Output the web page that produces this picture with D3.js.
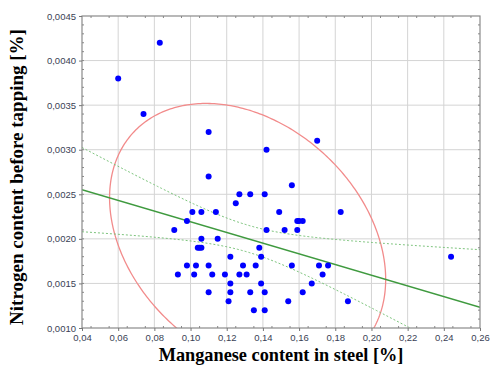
<!DOCTYPE html>
<html>
<head>
<meta charset="utf-8">
<script src="https://cdn.jsdelivr.net/npm/d3@7"></script>
<style>
  body { margin: 0; background: #fff; }
  svg { display: block; }
</style>
</head>
<body>
<div id="chart"></div>
<script>
// Mn content in steel [%]
const manganese = [
  0.060, 0.074, 0.083, 0.110, 0.110, 0.142, 0.170, 0.091, 0.098, 0.101,
  0.106, 0.114, 0.106, 0.115, 0.104, 0.105, 0.106, 0.122, 0.098, 0.103,
  0.110, 0.129, 0.093, 0.102, 0.112, 0.119, 0.127, 0.131, 0.122, 0.110,
  0.122, 0.121, 0.127, 0.133, 0.141, 0.125, 0.156, 0.149, 0.183, 0.159,
  0.160, 0.162, 0.142, 0.152, 0.159, 0.138, 0.139, 0.136, 0.156, 0.171,
  0.176, 0.173, 0.139, 0.167, 0.133, 0.141, 0.162, 0.154, 0.187, 0.135,
  0.141, 0.244
];
// N content before tapping [%]
const nitrogen = [
  0.0038, 0.0034, 0.0042, 0.0032, 0.0027, 0.0030, 0.0031, 0.0021, 0.0022, 0.0023,
  0.0023, 0.0023, 0.0020, 0.0020, 0.0019, 0.0019, 0.0019, 0.0018, 0.0017, 0.0017,
  0.0017, 0.0017, 0.0016, 0.0016, 0.0016, 0.0016, 0.0016, 0.0016, 0.0015, 0.0014,
  0.0014, 0.0013, 0.0025, 0.0025, 0.0025, 0.0024, 0.0026, 0.0023, 0.0023, 0.0022,
  0.0022, 0.0022, 0.0021, 0.0021, 0.0021, 0.0019, 0.0018, 0.0017, 0.0017, 0.0017,
  0.0017, 0.0016, 0.0015, 0.0015, 0.0014, 0.0014, 0.0014, 0.0013, 0.0013, 0.0012,
  0.0012, 0.0018
];
const xTicks = [0.04, 0.06, 0.08, 0.10, 0.12, 0.14, 0.16, 0.18, 0.20, 0.22, 0.24, 0.26];
const yTicks = [0.0010, 0.0015, 0.0020, 0.0025, 0.0030, 0.0035, 0.0040, 0.0045];
const xDomain = [0.04, 0.26];
const yDomain = [0.0010, 0.0045];

const width = 490, height = 368;
const margin = { top: 16, right: 10, bottom: 40, left: 82 };

const svg = d3.select("#chart").append("svg")
  .attr("width", width)
  .attr("height", height);

const x = d3.scaleLinear().domain(xDomain).range([margin.left, width - margin.right]);
const y = d3.scaleLinear().domain(yDomain).range([height - margin.bottom, margin.top]);

const pts = manganese.map((m, i) => ({ m, n: nitrogen[i] }));
const comma = d => d3.format(".2f")(d).replace(".", ",");
const comma4 = d => d3.format(".4f")(d).replace(".", ",");

svg.append("defs").append("clipPath").attr("id", "clip")
  .append("rect")
  .attr("x", margin.left).attr("y", margin.top)
  .attr("width", width - margin.left - margin.right)
  .attr("height", height - margin.top - margin.bottom);

// grid
svg.append("g").selectAll("line").data(xTicks.slice(1, -1)).join("line")
  .attr("x1", d => x(d)).attr("x2", d => x(d))
  .attr("y1", y.range()[1]).attr("y2", y.range()[0])
  .attr("stroke", "#d4d4d4").attr("stroke-width", 1);
svg.append("g").selectAll("line").data(yTicks.slice(1, -1)).join("line")
  .attr("y1", d => y(d)).attr("y2", d => y(d))
  .attr("x1", x.range()[0]).attr("x2", x.range()[1])
  .attr("stroke", "#d4d4d4").attr("stroke-width", 1);

// statistics: least squares fit, 95% confidence band, 95% ellipse
const n = pts.length;
const mx = d3.mean(pts, d => d.m), my = d3.mean(pts, d => d.n);
const sxx = d3.sum(pts, d => (d.m - mx) ** 2);
const syy = d3.sum(pts, d => (d.n - my) ** 2);
const sxy = d3.sum(pts, d => (d.m - mx) * (d.n - my));
const slope = sxy / sxx, icpt = my - slope * mx;
const resid = d3.sum(pts, d => (d.n - (icpt + slope * d.m)) ** 2);
const se = Math.sqrt(resid / (n - 2));
const tval = 2.0;

const xs = d3.range(0, 101).map(i => xDomain[0] + (xDomain[1] - xDomain[0]) * i / 100);
const band = sign => xs.map(v => [v, icpt + slope * v + sign * tval * se * Math.sqrt(1 / n + (v - mx) ** 2 / sxx)]);
const line = d3.line().x(d => x(d[0])).y(d => y(d[1]));

const plot = svg.append("g").attr("clip-path", "url(#clip)");

// ellipse
const cxx = sxx / (n - 1), cyy = syy / (n - 1), cxy = sxy / (n - 1);
const tr = cxx + cyy, det = cxx * cyy - cxy * cxy;
const l1 = tr / 2 + Math.sqrt(tr * tr / 4 - det), l2 = tr / 2 - Math.sqrt(tr * tr / 4 - det);
const ang = Math.atan2(l1 - cxx, cxy);
const k = Math.sqrt(5.991);
const ell = d3.range(0, 361).map(a => {
  const t = a * Math.PI / 180;
  const u = k * Math.sqrt(l1) * Math.cos(t), w = k * Math.sqrt(l2) * Math.sin(t);
  return [mx + u * Math.cos(ang) - w * Math.sin(ang), my + u * Math.sin(ang) + w * Math.cos(ang)];
});
plot.append("path").datum(ell)
  .attr("d", line)
  .attr("fill", "none")
  .attr("stroke", "#f28b8b").attr("stroke-width", 1.3);

[1, -1].forEach(s => {
  plot.append("path").datum(band(s))
    .attr("d", line)
    .attr("fill", "none")
    .attr("stroke", "#7dc47d").attr("stroke-width", 1)
    .attr("stroke-dasharray", "2,2");
});
plot.append("path").datum([[xDomain[0], icpt + slope * xDomain[0]], [xDomain[1], icpt + slope * xDomain[1]]])
  .attr("d", line)
  .attr("fill", "none")
  .attr("stroke", "#3f9a3f").attr("stroke-width", 1.5);

// points
svg.append("g").selectAll("circle").data(pts).join("circle")
  .attr("cx", d => x(d.m)).attr("cy", d => y(d.n))
  .attr("r", 3)
  .attr("fill", "#0000ff");

// frame
svg.append("rect")
  .attr("x", margin.left).attr("y", margin.top)
  .attr("width", width - margin.left - margin.right)
  .attr("height", height - margin.top - margin.bottom)
  .attr("fill", "none").attr("stroke", "#8a8a8a").attr("stroke-width", 1.2);

// axes
const xAxis = svg.append("g")
  .attr("transform", `translate(0,${height - margin.bottom})`)
  .call(d3.axisBottom(x).tickValues(xTicks).tickFormat(comma).tickSize(3).tickPadding(3));
const yAxis = svg.append("g")
  .attr("transform", `translate(${margin.left},0)`)
  .call(d3.axisLeft(y).tickValues(yTicks).tickFormat(comma4).tickSize(3).tickPadding(3));
[xAxis, yAxis].forEach(a => {
  a.select(".domain").remove();
  a.selectAll("line").attr("stroke", "#777");
  a.selectAll("text").attr("fill", "#3a3f55")
    .style("font-family", "Arial, 'Liberation Sans', sans-serif").style("font-size", "9.5px");
});

// minor ticks (inside)
const xMinor = d3.range(0, 22).map(i => 0.04 + i * 0.01 + 0.005);
const yMinor = d3.range(1, 35).map(i => 0.0010 + i * 0.0001);
const ticks = svg.append("g").attr("stroke", "#888").attr("stroke-width", 1);
ticks.selectAll(".xb").data(xMinor).join("line")
  .attr("x1", d => x(d)).attr("x2", d => x(d))
  .attr("y1", y.range()[0]).attr("y2", y.range()[0] - 2);
ticks.selectAll(".xt").data(xMinor).join("line")
  .attr("x1", d => x(d)).attr("x2", d => x(d))
  .attr("y1", y.range()[1]).attr("y2", y.range()[1] + 2);
ticks.selectAll(".yl").data(yMinor).join("line")
  .attr("y1", d => y(d)).attr("y2", d => y(d))
  .attr("x1", x.range()[0]).attr("x2", x.range()[0] + 2);
ticks.selectAll(".yr").data(yMinor).join("line")
  .attr("y1", d => y(d)).attr("y2", d => y(d))
  .attr("x1", x.range()[1]).attr("x2", x.range()[1] - 2);

// titles
svg.append("text")
  .attr("x", 281).attr("y", 361)
  .attr("text-anchor", "middle")
  .style("font-family", "'Liberation Serif', 'Times New Roman', serif")
  .style("font-weight", "bold").style("font-size", "18.3px")
  .text("Manganese content in steel [%]");
svg.append("text")
  .attr("transform", "translate(23,177) rotate(-90)")
  .attr("text-anchor", "middle")
  .style("font-family", "'Liberation Serif', 'Times New Roman', serif")
  .style("font-weight", "bold").style("font-size", "19px")
  .text("Nitrogen content before tapping [%]");
</script>
</body>
</html>
